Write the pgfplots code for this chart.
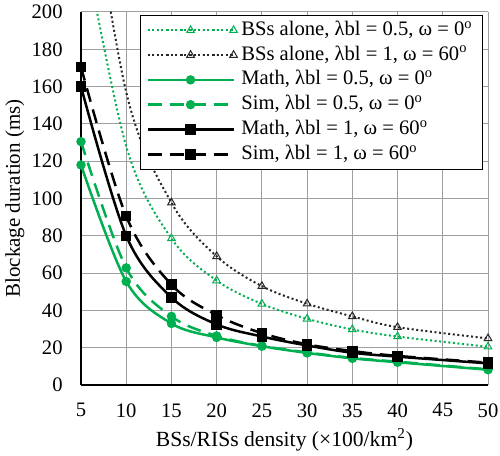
\documentclass[border=0pt]{standalone}
\usepackage{pgfplots}
\pgfplotsset{compat=1.18}
\usepackage{fontspec}
\setmainfont{Liberation Serif}
\definecolor{exgreen}{RGB}{0,176,80}
\newcommand{\dg}{\textsuperscript{o}}
\begin{document}
\fontsize{10.3pt}{12pt}\selectfont
\begin{tikzpicture}
\begin{axis}[
  scale only axis,
  width=203.5pt, height=186.5pt,
  xmin=5, xmax=50, ymin=0, ymax=200,
  xtick={5,10,...,50}, ytick={0,20,...,200},
  xticklabels={5,10,15,20,25,30,35,40,45,50},
  yticklabels={0,20,40,60,80,100,120,140,160,180,200},
  axis x line*=bottom, axis y line*=left,
  axis line style={black, line width=0.7pt, -},
  major tick length=0pt,
  grid=major,
  major grid style={gray!75, line width=0.5pt},
  ticklabel style={font=\fontsize{10.3pt}{12pt}\selectfont},
  every x tick label/.append style={inner ysep=0pt, yshift=-9pt},
  every y tick label/.append style={inner xsep=0pt, xshift=-9pt},
  xlabel={BSs/RISs density (\texttimes100/km\textsuperscript{2})},
  ylabel={Blockage duration (ms)},
  xlabel style={font=\fontsize{10.8pt}{12pt}\selectfont, yshift=-2pt},
  ylabel style={font=\fontsize{10.5pt}{12pt}\selectfont},
  legend style={at={(rel axis cs:0.988,0.992)}, anchor=north east,
    draw=black, line width=0.5pt, fill=white,
    font=\fontsize{10.3pt}{12pt}\selectfont,
    inner xsep=3pt, inner ysep=1.2pt, row sep=0pt,
    nodes={text height=7.3pt, text depth=2.3pt, inner ysep=1.4pt, inner xsep=2pt}},
  legend cell align=left,
  legend image code/.code={%
    \draw[mark repeat=2,mark phase=2] plot coordinates {(0pt,0pt)(21.5pt,0pt)(43pt,0pt)};},
  every axis plot/.append style={smooth, tension=0.55},
]
% BSs alone, lambda_bl = 0.5, omega = 0
\addplot[exgreen, dash pattern=on 1pt off 1.3pt, line width=1pt, mark=triangle, mark size=2.2pt,
  mark options={solid, fill=white, line width=0.5pt}, mark indices={2,3,4,5,6,7,8,9}]
  coordinates {(5,245) (10,128) (15,78.6) (20,56) (25,43.5) (30,35.5) (35,29.8) (40,26) (50,20.5)};
\addlegendentry{BSs alone, λbl = 0.5, ω = 0\dg}
% BSs alone, lambda_bl = 1, omega = 60
\addplot[black!85, dash pattern=on 1pt off 1.3pt, line width=1pt, mark=triangle, mark size=2.2pt,
  mark options={solid, fill=white, line width=0.5pt}, mark indices={2,3,4,5,6,7,8,9}]
  coordinates {(5,300) (10,157) (15,97.7) (20,69) (25,53) (30,43.6) (35,36.8) (40,31) (50,25)};
\addlegendentry{BSs alone, λbl = 1, ω = 60\dg}
% Math, lambda_bl = 0.5, omega = 0
\addplot[exgreen, solid, line width=1.25pt, mark=*, mark size=1.7pt]
  coordinates {(5,118) (10,55.5) (15,33) (20,25.5) (25,20.8) (30,17.2) (35,14.3) (40,12.2) (50,8.2)};
\addlegendentry{Math, λbl = 0.5, ω = 0\dg}
% Sim, lambda_bl = 0.5, omega = 0
\addplot[exgreen, dash pattern=on 7pt off 4pt, line width=1.25pt, mark=*, mark size=1.7pt,
  mark options={solid}]
  coordinates {(5,130.5) (10,62.8) (15,36.8) (20,26.3) (25,21) (30,17.5) (35,14.5) (40,12.5) (50,8.4)};
\addlegendentry{Sim, λbl = 0.5, ω = 0\dg}
% Math, lambda_bl = 1, omega = 60
\addplot[black, solid, line width=1.25pt, mark=square*, mark size=2pt]
  coordinates {(5,160) (10,80) (15,47) (20,32.5) (25,26) (30,21.2) (35,17.3) (40,15.2) (50,11.6)};
\addlegendentry{Math, λbl = 1, ω = 60\dg}
% Sim, lambda_bl = 1, omega = 60
\addplot[black, dash pattern=on 7pt off 4pt, line width=1.25pt, mark=square*, mark size=2pt,
  mark options={solid}]
  coordinates {(5,170.5) (10,90.5) (15,53.8) (20,37.5) (25,27.8) (30,21.8) (35,18.2) (40,15.6) (50,12)};
\addlegendentry{Sim, λbl = 1, ω = 60\dg}
\coordinate (sw) at (rel axis cs:0,0);
\coordinate (ne) at (rel axis cs:1,1);
\end{axis}
\pgfresetboundingbox
\path[use as bounding box] ([xshift=-40.5pt,yshift=-35pt]sw) rectangle ([xshift=6pt,yshift=6pt]ne);
\end{tikzpicture}
\end{document}
